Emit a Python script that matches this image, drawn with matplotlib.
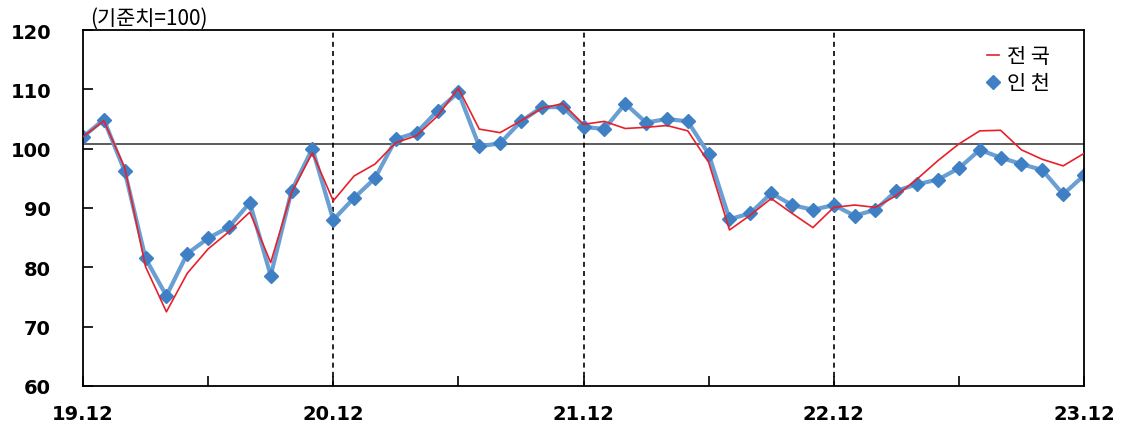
import matplotlib.pyplot as plt
from matplotlib.lines import Line2D
import numpy as np

plt.rcParams['font.family'] = ['Noto Sans CJK KR', 'DejaVu Sans']

# monthly index 19.12 ~ 23.12
tick_labels = ['19.12', '', '20.12', '', '21.12', '', '22.12', '', '23.12']
year_marks = [12, 24, 36]   # 20.12 / 21.12 / 22.12

# 인천
incheon = [102.0, 104.9, 96.2, 81.5, 75.2, 82.3, 84.9, 86.8, 90.9, 78.6,
           92.9, 100.0, 88.0, 91.7, 95.0, 101.6, 102.7, 106.4, 109.5, 100.4,
           100.9, 104.6, 107.0, 107.0, 103.7, 103.3, 107.6, 104.4, 105.0, 104.6,
           99.1, 88.1, 89.1, 92.5, 90.5, 89.7, 90.5, 88.7, 89.7, 92.9,
           94.0, 94.8, 96.7, 99.8, 98.5, 97.4, 96.4, 92.3, 95.5]
# 전국
nation = [102.0, 104.7, 96.8, 80.1, 72.5, 79.0, 83.1, 86.0, 89.3, 80.8,
          92.6, 99.3, 91.2, 95.4, 97.4, 101.0, 102.2, 105.5, 110.2, 103.3,
          102.7, 104.7, 106.8, 107.6, 104.1, 104.6, 103.4, 103.6, 103.9, 103.0,
          97.7, 86.3, 88.8, 91.6, 89.1, 86.7, 90.1, 90.5, 90.1, 92.1,
          94.9, 98.0, 100.8, 103.0, 103.1, 99.8, 98.2, 97.1, 99.2]
base_line = 100.8

x = np.arange(len(incheon))

fig = plt.figure(figsize=(11.23, 4.27), dpi=100)
ax = fig.add_axes([0.0739, 0.0937, 0.8914, 0.8337])

ax.axhline(base_line, color='#404040', lw=1.2, zorder=1)
for m in year_marks:
    ax.axvline(m, color='black', lw=1.2, ls=(0, (3, 2.5)), zorder=1)

ax.plot(x, incheon, color='#6A9FD4', lw=3, marker='D', markersize=7.5,
        markerfacecolor='#3F7FC4', markeredgecolor='#3F7FC4', zorder=2)
ax.plot(x, nation, color='#E8202A', lw=1.2, zorder=3)

ax.set_xlim(0, 48)
ax.set_ylim(60, 120)
ax.set_xticks(np.arange(0, 49, 6))
ax.set_xticklabels(tick_labels)
ax.set_yticks(np.arange(60, 121, 10))
ax.tick_params(direction='in', length=7, width=1.2, labelsize=14)
ax.tick_params(axis='x', pad=13)
ax.tick_params(axis='y', pad=23)
for lab in ax.get_xticklabels() + ax.get_yticklabels():
    lab.set_fontweight('bold')
    lab.set_family('DejaVu Sans')
for s in ax.spines.values():
    s.set_linewidth(1.3)

fig.text(0.080, 0.955, '(기준치=100)', fontsize=15, ha='left', va='center')

handles = [Line2D([], [], color='#E8202A', lw=1.2),
           Line2D([], [], ls='none', marker='D', markersize=7,
                  markerfacecolor='#3F7FC4', markeredgecolor='#3F7FC4')]
ax.legend(handles, ['전 국', '인 천'], loc='upper right', frameon=False,
          fontsize=15, handlelength=0.6, handletextpad=0.4,
          labelspacing=0.25, bbox_to_anchor=(0.985, 1.01))

fig.savefig('out.png', dpi=100)
